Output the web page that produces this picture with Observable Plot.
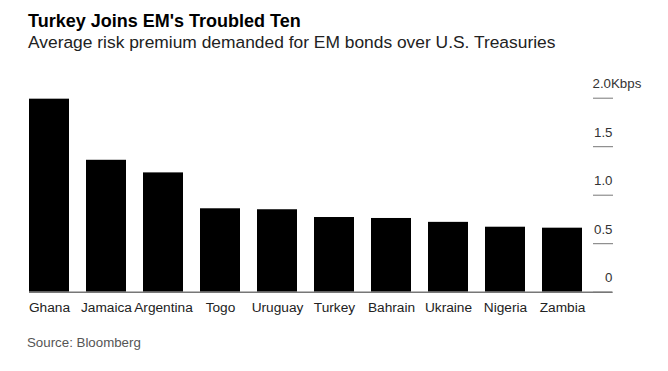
<!DOCTYPE html>
<html>
<head>
<meta charset="utf-8">
<script src="https://cdn.jsdelivr.net/npm/d3@7"></script>
<script src="https://cdn.jsdelivr.net/npm/@observablehq/plot@0.6"></script>
<style>
  html, body { margin: 0; padding: 0; background: #fff; }
  #wrap { position: relative; width: 668px; height: 371px; font-family: "Liberation Sans", Arial, sans-serif; }
  .t { position: absolute; left: 28px; white-space: nowrap; }
  #title { top: 12px; font-size: 18px; line-height: 18px; font-weight: bold; color: #000; }
  #subtitle { top: 33.5px; font-size: 17.4px; line-height: 17.4px; color: #222; }
  #source { top: 335.5px; left: 27px; font-size: 13.3px; line-height: 13.3px; color: #555; }
  #chart { position: absolute; left: 0; top: 60px; }
</style>
</head>
<body>
<div id="wrap">
  <div id="title" class="t">Turkey Joins EM's Troubled Ten</div>
  <div id="subtitle" class="t">Average risk premium demanded for EM bonds over U.S. Treasuries</div>
  <div id="chart"></div>
  <div id="source" class="t">Source: Bloomberg</div>
</div>
<script>
const countries = ["Ghana", "Jamaica", "Argentina", "Togo", "Uruguay", "Turkey", "Bahrain", "Ukraine", "Nigeria", "Zambia"];
const premiums = [1.99, 1.36, 1.23, 0.86, 0.85, 0.77, 0.76, 0.72, 0.67, 0.66];
const yTicks = [0, 0.5, 1.0, 1.5, 2.0];
const yTickLabels = ["0", "0.5", "1.0", "1.5", "2.0Kbps"];

const data = countries.map((c, i) => ({country: c, value: premiums[i]}));
const tickData = yTicks.map((v, i) => ({v, label: yTickLabels[i]}));
const lastTick = yTicks[yTicks.length - 1];

const chart = Plot.plot({
  width: 668,
  height: 257,
  marginTop: 37.7,
  marginBottom: 25.3,
  marginLeft: 29,
  marginRight: 56,
  style: {fontFamily: "'Liberation Sans', Arial, sans-serif", background: "transparent"},
  x: {domain: countries, paddingInner: 0.307, paddingOuter: 0.24, align: 0, label: null},
  y: {domain: [0, 2.0], label: null},
  marks: [
    Plot.barY(data, {x: "country", y: "value", fill: "#000"}),
    Plot.axisX({tickSize: 0, tickPadding: 10, fontSize: 13.7, fill: "#222", label: null}),
    Plot.axisY({anchor: "right", ticks: yTicks, tickSize: -20, stroke: "#777", tickFormat: () => "", label: null}),
    Plot.text(tickData.filter(d => d.v !== lastTick), {y: "v", text: "label", frameAnchor: "right", textAnchor: "end", dy: -14, fontSize: 13.3, fill: "#333"}),
    Plot.text(tickData.filter(d => d.v === lastTick), {y: "v", text: "label", frameAnchor: "right", textAnchor: "start", dx: -20, dy: -14, fontSize: 13.3, fill: "#333"}),
    Plot.ruleY([0], {stroke: "#777", strokeWidth: 1.5})
  ]
});
document.getElementById("chart").appendChild(chart);
</script>
</body>
</html>
